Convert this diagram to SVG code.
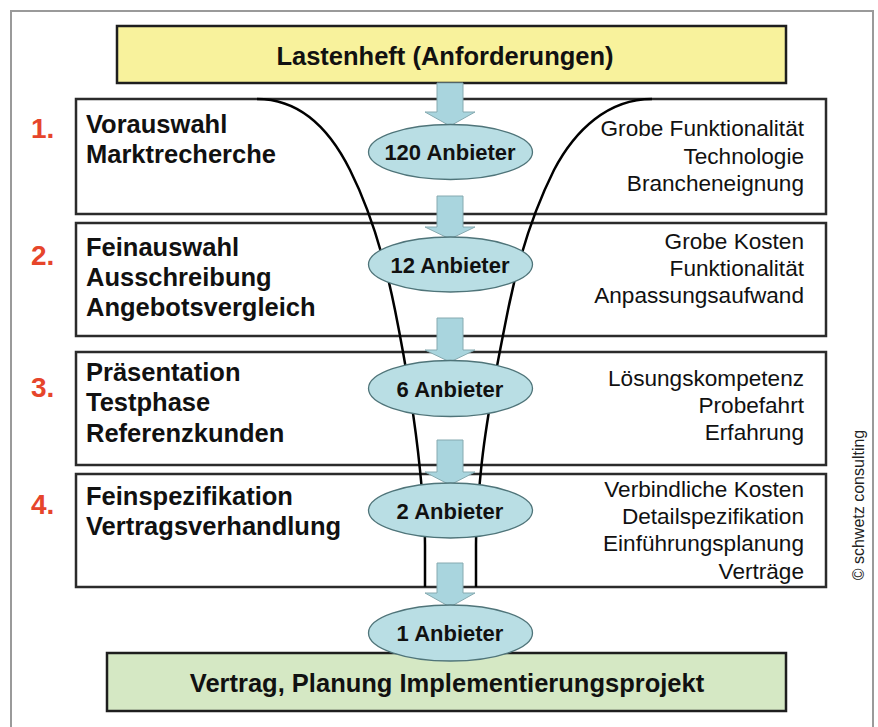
<svg xmlns="http://www.w3.org/2000/svg" width="878" height="727" viewBox="0 0 878 727">
<style>
.box{fill:#ffffff;stroke:#2b2b2b;stroke-width:2.5}
.num{font-family:"Liberation Sans",Arial,sans-serif;font-weight:bold;font-size:28px;fill:#e6452b}
.lt{font-family:"Liberation Sans",Arial,sans-serif;font-weight:bold;font-size:25.5px;fill:#111}
.rt{font-family:"Liberation Sans",Arial,sans-serif;font-size:22.6px;fill:#111;text-anchor:end}
.el{fill:#b9dee4;stroke:#4f7479;stroke-width:1.3}
.et{font-family:"Liberation Sans",Arial,sans-serif;font-weight:bold;font-size:22px;fill:#111;text-anchor:middle}
.arr{fill:#a9d5de;stroke:#86aab0;stroke-width:1}
.fun{fill:none;stroke:#000;stroke-width:2.5}
.big{font-family:"Liberation Sans",Arial,sans-serif;font-weight:bold;font-size:25.5px;fill:#111;text-anchor:middle}
</style>
<rect x="0" y="0" width="878" height="727" fill="#ffffff"/>
<rect id="frame" x="11" y="11" width="862" height="740" fill="none" stroke="#9a9a9a" stroke-width="2"/>

<g id="lastenheft">
<rect x="117" y="26" width="669" height="57" fill="#f8f29c" stroke="#1e1e1e" stroke-width="2.5"/>
<text class="big" x="445" y="65">Lastenheft (Anforderungen)</text>
</g>

<g id="stage1">
<rect class="box" x="76" y="99" width="750" height="115"/>
<text class="num" x="31" y="138">1.</text>
<text class="lt" x="86" y="133">Vorauswahl</text>
<text class="lt" x="86" y="163">Marktrecherche</text>
<text class="rt" x="804" y="136">Grobe Funktionalität</text>
<text class="rt" x="804" y="164">Technologie</text>
<text class="rt" x="804" y="191">Brancheneignung</text>
</g>

<g id="stage2">
<rect class="box" x="76" y="223" width="750" height="113"/>
<text class="num" x="31" y="265">2.</text>
<text class="lt" x="86" y="256">Feinauswahl</text>
<text class="lt" x="86" y="286">Ausschreibung</text>
<text class="lt" x="86" y="316">Angebotsvergleich</text>
<text class="rt" x="804" y="249">Grobe Kosten</text>
<text class="rt" x="804" y="276">Funktionalität</text>
<text class="rt" x="804" y="303">Anpassungsaufwand</text>
</g>

<g id="stage3">
<rect class="box" x="76" y="352" width="750" height="113"/>
<text class="num" x="31" y="397">3.</text>
<text class="lt" x="86" y="381">Präsentation</text>
<text class="lt" x="86" y="411">Testphase</text>
<text class="lt" x="86" y="442">Referenzkunden</text>
<text class="rt" x="804" y="386">Lösungskompetenz</text>
<text class="rt" x="804" y="413">Probefahrt</text>
<text class="rt" x="804" y="440">Erfahrung</text>
</g>

<g id="stage4">
<rect class="box" x="76" y="474" width="750" height="113"/>
<text class="num" x="31" y="514">4.</text>
<text class="lt" x="86" y="505">Feinspezifikation</text>
<text class="lt" x="86" y="535">Vertragsverhandlung</text>
<text class="rt" x="804" y="497">Verbindliche Kosten</text>
<text class="rt" x="804" y="524">Detailspezifikation</text>
<text class="rt" x="804" y="551">Einführungsplanung</text>
<text class="rt" x="804" y="579">Verträge</text>
</g>

<g id="funnel">
<path class="fun" d="M257,99 C300,99 330,130 350,170 C370,210 385,260 395,310 C405,360 415,420 420,470 C424,510 425,530 425,545 L425,587"/>
<path class="fun" d="M652,99 C608,99 575,130 554,170 C534,210 518,260 508,310 C498,360 486,420 481,470 C477,510 476,530 476,545 L476,587"/>
</g>

<g id="connectors">
<path class="arr" d="M437,83 L463,83 L463,112 L475,112 L450,126 L425,112 L437,112 Z"/>
<path class="arr" d="M437,196 L463,196 L463,227 L475,227 L450,239 L425,227 L437,227 Z"/>
<path class="arr" d="M437,318 L463,318 L463,350 L475,350 L450,362 L425,350 L437,350 Z"/>
<path class="arr" d="M437,440 L463,440 L463,472 L475,472 L450,485 L425,472 L437,472 Z"/>
<path class="arr" d="M437,563 L463,563 L463,593 L475,593 L450,607 L425,593 L437,593 Z"/>
</g>

<g id="result">
<rect x="107" y="653" width="679" height="58" fill="#d5e8c4" stroke="#1e1e1e" stroke-width="2.5"/>
<text class="big" x="447" y="692">Vertrag, Planung Implementierungsprojekt</text>
</g>

<g id="n120"><ellipse class="el" cx="450.5" cy="152" rx="82" ry="27.5"/><text class="et" x="450" y="160">120 Anbieter</text></g>
<g id="n12"><ellipse class="el" cx="450.5" cy="264.5" rx="82" ry="27.5"/><text class="et" x="450" y="272.5">12 Anbieter</text></g>
<g id="n6"><ellipse class="el" cx="450.5" cy="388.5" rx="82" ry="28"/><text class="et" x="450" y="396.5">6 Anbieter</text></g>
<g id="n2"><ellipse class="el" cx="450.5" cy="510.5" rx="82" ry="27.5"/><text class="et" x="450" y="518.5">2 Anbieter</text></g>
<g id="n1"><ellipse class="el" cx="450.5" cy="633" rx="82" ry="28"/><text class="et" x="450" y="641">1 Anbieter</text></g>

<text id="copyright" x="0" y="0" transform="translate(864,505) rotate(-90)" font-family="'Liberation Sans',Arial,sans-serif" font-size="16" fill="#222" text-anchor="middle">© schwetz consulting</text>
</svg>
